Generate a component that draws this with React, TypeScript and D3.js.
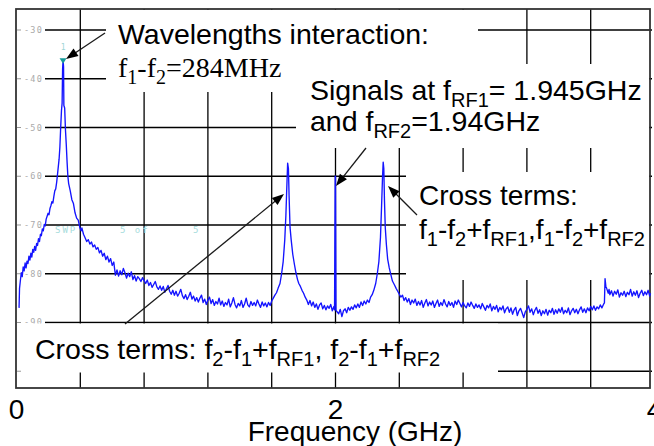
import React from "react";
import * as d3 from "d3";

const W = 654;
const H = 446;

// axis domains (GHz, dBm)
const X_DOMAIN: [number, number] = [0, 4];
const Y_DOMAIN: [number, number] = [-103.44, -25.69];

const X_GRID = [0.4, 0.8, 1.2, 1.6, 2.0, 2.4, 2.8, 3.2, 3.6];
const Y_GRID = [-30, -40, -50, -60, -70, -80, -90, -100];
const Y_TICK_LABELS = ["-30", "-40", "-50", "-60", "-70", "-80", "-90"];
const X_TICK_LABELS = [0, 2, 4];

// measured spectrum: [frequency GHz, level dBm]
const TRACE: [number, number][] = [
  [0.016, -87.0], [0.019, -83.0], [0.024, -81.5], [0.03, -79.8], [0.036, -80.6], [0.042, -78.6],
  [0.048, -79.4], [0.054, -77.8], [0.06, -78.8], [0.066, -77.4], [0.072, -77.9], [0.078, -76.4],
  [0.084, -77.2], [0.09, -75.8], [0.096, -76.6], [0.102, -75.0], [0.108, -75.6], [0.114, -74.4],
  [0.12, -75.2], [0.126, -73.8], [0.132, -74.2], [0.138, -72.8], [0.144, -73.4], [0.15, -71.9],
  [0.156, -72.2], [0.162, -70.8], [0.168, -71.2], [0.174, -69.9], [0.18, -70.2], [0.186, -68.8],
  [0.192, -68.2], [0.198, -67.6], [0.204, -67.9], [0.21, -66.6], [0.216, -66.0], [0.222, -65.2],
  [0.228, -65.5], [0.234, -64.2], [0.24, -63.0], [0.246, -62.6], [0.252, -61.2],
  [0.259, -59.0], [0.267, -56.5], [0.272, -54.0], [0.277, -50.0], [0.282, -46.5],
  [0.286, -45.0], [0.289, -38.0], [0.292, -36.2], [0.295, -37.5], [0.297, -45.5], [0.302, -46.0],
  [0.307, -50.5], [0.312, -53.5], [0.317, -57.0], [0.322, -60.0], [0.327, -61.5], [0.337, -63.0],
  [0.347, -64.8], [0.357, -65.6], [0.367, -67.5], [0.377, -68.6], [0.387, -69.0], [0.397, -70.5],
  [0.405, -71.2], [0.41, -70.6], [0.42, -71.9], [0.43, -72.6], [0.44, -73.4], [0.45, -73.0],
  [0.46, -73.9], [0.47, -73.5], [0.48, -74.5], [0.49, -74.1], [0.5, -75.0], [0.51, -74.6],
  [0.52, -75.7], [0.53, -75.2], [0.54, -76.4], [0.55, -75.8], [0.56, -77.1], [0.57, -76.4],
  [0.58, -77.6], [0.59, -76.9], [0.6, -78.3], [0.61, -77.6], [0.615, -79.0], [0.62, -80.3],
  [0.63, -79.2], [0.64, -80.5], [0.65, -79.4], [0.66, -80.2], [0.67, -78.9], [0.68, -79.8],
  [0.69, -80.9], [0.7, -79.9], [0.71, -80.6], [0.72, -79.6], [0.73, -81.2], [0.74, -80.4],
  [0.75, -81.5], [0.76, -80.6], [0.77, -81.0], [0.78, -81.6], [0.79, -80.8], [0.8, -81.4],
  [0.81, -82.0], [0.82, -81.3], [0.83, -82.4], [0.84, -81.8], [0.85, -82.8], [0.86, -82.2],
  [0.87, -81.6], [0.88, -82.7], [0.89, -83.2], [0.9, -82.5], [0.91, -83.4], [0.92, -82.6],
  [0.93, -83.8], [0.94, -83.1], [0.95, -82.4], [0.96, -83.6], [0.97, -84.2], [0.98, -83.4],
  [0.99, -84.4], [1.0, -83.6], [1.01, -84.6], [1.02, -84.0], [1.03, -83.2], [1.04, -84.5],
  [1.05, -85.1], [1.06, -84.3], [1.07, -85.3], [1.08, -84.6], [1.09, -83.8], [1.1, -85.2],
  [1.11, -84.6], [1.12, -85.6], [1.13, -84.9], [1.14, -85.8], [1.15, -85.0], [1.16, -84.4],
  [1.17, -85.9], [1.18, -85.2], [1.19, -86.3], [1.2, -85.4], [1.21, -84.8], [1.22, -86.1],
  [1.23, -85.3], [1.24, -86.5], [1.25, -85.7], [1.26, -86.2], [1.27, -85.0], [1.28, -86.4],
  [1.29, -85.6], [1.3, -86.7], [1.31, -85.9], [1.32, -86.4], [1.33, -85.2], [1.34, -86.8],
  [1.35, -86.0], [1.36, -84.9], [1.37, -86.3], [1.38, -87.0], [1.39, -86.1], [1.4, -86.6],
  [1.41, -85.5], [1.42, -86.9], [1.43, -86.2], [1.44, -85.0], [1.45, -86.4], [1.46, -86.8],
  [1.47, -85.7], [1.48, -86.5], [1.49, -85.9], [1.5, -86.6], [1.51, -85.4], [1.52, -86.2],
  [1.53, -86.9], [1.54, -85.8], [1.55, -86.6], [1.56, -86.0], [1.57, -86.8], [1.58, -85.9],
  [1.59, -86.5], [1.6, -85.6], [1.61, -85.0], [1.62, -84.4], [1.63, -83.9], [1.64, -83.0],
  [1.652, -82.0], [1.662, -80.0], [1.672, -77.5], [1.682, -73.0], [1.689, -68.0], [1.695, -62.0],
  [1.7, -57.3], [1.705, -58.5], [1.709, -64.0], [1.715, -70.5], [1.722, -73.0], [1.732, -76.0],
  [1.742, -78.0], [1.752, -79.8], [1.762, -81.2], [1.77, -82.0], [1.78, -82.6], [1.79, -83.4],
  [1.8, -84.0], [1.81, -84.8], [1.82, -85.4], [1.83, -86.3], [1.84, -85.5], [1.85, -86.6],
  [1.86, -85.8], [1.87, -86.9], [1.88, -86.2], [1.89, -87.3], [1.9, -86.4], [1.91, -86.0],
  [1.92, -87.2], [1.93, -86.5], [1.94, -87.4], [1.95, -86.6], [1.96, -87.1], [1.97, -86.3],
  [1.98, -87.6], [1.99, -86.7], [1.994, -87.4], [1.998, -60.0], [2.0, -60.0], [2.003, -87.5],
  [2.01, -87.8], [2.02, -88.2], [2.03, -87.3], [2.04, -88.8], [2.05, -87.6], [2.06, -87.2],
  [2.07, -88.0], [2.08, -86.9], [2.09, -87.5], [2.1, -86.8], [2.11, -87.3], [2.12, -86.4],
  [2.13, -87.0], [2.14, -86.2], [2.15, -86.9], [2.16, -85.8], [2.17, -86.5], [2.18, -85.6],
  [2.19, -86.2], [2.2, -85.4], [2.21, -85.9], [2.22, -84.8], [2.23, -84.3], [2.24, -83.4],
  [2.252, -82.0], [2.262, -80.0], [2.272, -77.5], [2.282, -72.5], [2.289, -66.0], [2.295, -60.0],
  [2.299, -57.1], [2.303, -58.5], [2.307, -65.0], [2.312, -70.5], [2.319, -74.0], [2.327, -77.0],
  [2.337, -78.8], [2.347, -80.2], [2.357, -81.5], [2.37, -82.3], [2.38, -83.0], [2.39, -83.6],
  [2.4, -84.2], [2.41, -84.8], [2.42, -84.4], [2.43, -85.5], [2.44, -84.9], [2.45, -85.8],
  [2.46, -85.1], [2.47, -86.3], [2.48, -85.4], [2.49, -86.0], [2.5, -85.2], [2.51, -86.5],
  [2.52, -85.7], [2.53, -86.4], [2.54, -85.5], [2.55, -86.9], [2.56, -86.0], [2.57, -85.3],
  [2.58, -86.6], [2.59, -85.8], [2.6, -86.4], [2.61, -85.6], [2.62, -86.9], [2.63, -86.1],
  [2.64, -85.4], [2.65, -86.7], [2.66, -85.9], [2.67, -86.5], [2.68, -85.3], [2.69, -86.2],
  [2.7, -86.8], [2.71, -85.7], [2.72, -86.5], [2.73, -85.9], [2.74, -86.9], [2.75, -85.6],
  [2.76, -86.3], [2.77, -85.4], [2.78, -86.1], [2.79, -86.8], [2.8, -85.9], [2.81, -86.6],
  [2.82, -87.0], [2.83, -86.0], [2.84, -86.7], [2.85, -85.8], [2.86, -86.5], [2.87, -87.1],
  [2.88, -86.2], [2.89, -86.9], [2.9, -86.4], [2.91, -87.2], [2.92, -86.1], [2.93, -86.8],
  [2.94, -87.5], [2.95, -86.5], [2.96, -87.0], [2.97, -86.2], [2.98, -87.6], [2.99, -86.7],
  [3.0, -87.3], [3.01, -86.5], [3.02, -87.8], [3.03, -86.9], [3.04, -87.4], [3.05, -86.6],
  [3.06, -88.0], [3.07, -87.2], [3.08, -86.8], [3.09, -87.9], [3.1, -87.0], [3.11, -88.3],
  [3.12, -87.4], [3.13, -86.9], [3.14, -88.6], [3.15, -87.6], [3.16, -87.1], [3.17, -88.0],
  [3.18, -89.0], [3.19, -87.8], [3.2, -87.3], [3.21, -86.6], [3.22, -87.9], [3.23, -87.2],
  [3.24, -88.4], [3.25, -87.5], [3.26, -86.9], [3.27, -88.1], [3.28, -87.4], [3.29, -88.6],
  [3.3, -87.6], [3.31, -88.2], [3.32, -87.3], [3.33, -88.5], [3.34, -87.5], [3.35, -88.0],
  [3.36, -87.1], [3.37, -88.3], [3.38, -87.4], [3.39, -88.1], [3.4, -87.2], [3.41, -87.9],
  [3.42, -86.9], [3.43, -88.2], [3.44, -87.5], [3.45, -88.0], [3.46, -87.0], [3.47, -88.4],
  [3.48, -87.6], [3.49, -87.1], [3.5, -88.0], [3.51, -87.3], [3.52, -88.2], [3.53, -87.4],
  [3.54, -86.8], [3.55, -87.9], [3.56, -87.2], [3.57, -88.0], [3.58, -87.0], [3.59, -87.6],
  [3.6, -86.7], [3.61, -87.4], [3.62, -86.6], [3.63, -87.5], [3.64, -86.8], [3.65, -87.2],
  [3.66, -86.4], [3.67, -87.0], [3.68, -86.3], [3.686, -86.0], [3.69, -81.0], [3.695, -82.6],
  [3.7, -83.0], [3.71, -84.0], [3.715, -83.2], [3.72, -84.3], [3.73, -83.5], [3.74, -84.6],
  [3.75, -83.6], [3.76, -84.2], [3.77, -83.3], [3.78, -84.8], [3.79, -83.9], [3.8, -84.4],
  [3.81, -83.6], [3.82, -84.7], [3.83, -83.8], [3.84, -84.3], [3.85, -83.2], [3.86, -84.6],
  [3.87, -83.7], [3.88, -84.4], [3.89, -83.5], [3.9, -84.9], [3.91, -84.0], [3.92, -83.4],
  [3.93, -84.5], [3.94, -83.7], [3.95, -84.3], [3.96, -83.4], [3.97, -84.6], [3.975, -84.0],
];

const MARKER: [number, number] = [0.292, -36.2];

const SANS = "'Liberation Sans', Arial, sans-serif";
const SERIF = "'Liberation Serif', 'Times New Roman', serif";
const MONO = "'DejaVu Sans Mono', monospace";

const FRAME = { left: 16, top: 9, right: 650, bottom: 388 };
const GRID_X0 = 45;

// white annotation panels that hide the graticule
const PANELS = [
  { x: 106, y: 10, w: 372, h: 82 },
  { x: 296, y: 64, w: 353, h: 84 },
  { x: 406, y: 172, w: 243, h: 108 },
  { x: 22, y: 323.5, w: 476, h: 49 },
];

function Arrow({ x1, y1, x2, y2 }: { x1: number; y1: number; x2: number; y2: number }) {
  const dx = x2 - x1;
  const dy = y2 - y1;
  const len = Math.sqrt(dx * dx + dy * dy);
  const ux = dx / len;
  const uy = dy / len;
  const hl = 12;
  const hw = 4.5;
  const bx = x2 - ux * hl;
  const by = y2 - uy * hl;
  const pts = `${x2},${y2} ${bx - uy * hw},${by + ux * hw} ${bx + uy * hw},${by - ux * hw}`;
  return (
    <g>
      <line x1={x1} y1={y1} x2={bx + ux * 2} y2={by + uy * 2} stroke="#1a1a1a" strokeWidth={1.3} />
      <polygon points={pts} fill="#000" />
    </g>
  );
}

export default function App() {
  const x = d3.scaleLinear().domain(X_DOMAIN).range([16.5, 654.5]);
  const y = d3.scaleLinear().domain(Y_DOMAIN).range([388, 9]);
  const line = d3
    .line<[number, number]>()
    .x((d) => x(d[0]))
    .y((d) => y(d[1]));

  const mx = x(MARKER[0]);
  const my = y(MARKER[1]);
  const SUB = 20;
  const SH = 7;

  return (
    <svg
      width={W}
      height={H}
      viewBox={`0 0 ${W} ${H}`}
      style={{ position: "absolute", left: 0, top: 0, background: "#fff" }}
    >
      <rect x={0} y={0} width={W} height={H} fill="#fff" />
      {/* graticule */}
      {X_GRID.map((g) => (
        <line key={"vx" + g} x1={x(g)} x2={x(g)} y1={FRAME.top} y2={FRAME.bottom} stroke="#000" strokeWidth={1.3} />
      ))}
      {Y_GRID.map((g) => (
        <line key={"hy" + g} x1={GRID_X0} x2={FRAME.right + 2} y1={y(g)} y2={y(g)} stroke="#000" strokeWidth={1.3} />
      ))}
      {/* y tick labels (instrument style) */}
      {Y_GRID.map((g) => (
        <line key={"tk" + g} x1={17} x2={21} y1={y(g)} y2={y(g)} stroke="#999" strokeWidth={1} />
      ))}
      {Y_TICK_LABELS.map((t, i) => (
        <text
          key={"yl" + t}
          x={24}
          y={y(Y_GRID[i]) + 3}
          fontFamily={MONO}
          fontSize={8.5}
          letterSpacing={1.2}
          fill="#aaa"
        >
          {t}
        </text>
      ))}
      {/* panels */}
      {PANELS.map((p, i) => (
        <rect key={"p" + i} x={p.x} y={p.y} width={p.w} height={p.h} fill="#fff" />
      ))}
      {/* frame */}
      <rect
        x={FRAME.left}
        y={FRAME.top}
        width={FRAME.right - FRAME.left}
        height={FRAME.bottom - FRAME.top}
        fill="none"
        stroke="#333"
        strokeWidth={1.8}
      />
      {/* sweep text */}
      <g fontFamily={MONO} fontSize={9} fill="#a6dcdc" letterSpacing={2}>
        <text x={55} y={233}>SWP</text>
        <text x={120} y={233}>5 of</text>
        <text x={193} y={233}>5</text>
      </g>
      {/* trace */}
      <path d={line(TRACE) || ""} fill="none" stroke="#1414ff" strokeWidth={1.35} strokeLinejoin="round" />
      {/* marker */}
      <polygon points={`${mx - 3.5},${my - 2} ${mx + 3.5},${my - 2} ${mx},${my + 3.5}`} fill="#169b9b" />
      <text x={mx} y={my - 10} textAnchor="middle" fontFamily={MONO} fontSize={8} fill="#9fd6d6">
        1
      </text>
      {/* arrows */}
      <Arrow x1={105} y1={33} x2={66} y2={59} />
      <Arrow x1={366} y1={148} x2={336} y2={186} />
      <Arrow x1={417} y1={215} x2={388} y2={186} />
      <Arrow x1={125} y1={324} x2={284} y2={194} />
      {/* annotations */}
      <text x={118} y={44} fontFamily={SANS} fontSize={28.5} fill="#000">
        Wavelengths interaction:
      </text>
      <text x={118} y={77} fontFamily={SERIF} fontSize={28} fill="#000">
        f<tspan fontSize={SUB} dy={SH}>1</tspan>
        <tspan dy={-SH}>-f</tspan>
        <tspan fontSize={SUB} dy={SH}>2</tspan>
        <tspan dy={-SH}>=284MHz</tspan>
      </text>
      <text x={310} y={100} fontFamily={SANS} fontSize={28.5} fill="#000">
        Signals at f<tspan fontSize={SUB} dy={SH}>RF1</tspan>
        <tspan dy={-SH}>= 1.945GHz</tspan>
      </text>
      <text x={310} y={131} fontFamily={SANS} fontSize={28.5} fill="#000">
        and f<tspan fontSize={SUB} dy={SH}>RF2</tspan>
        <tspan dy={-SH}>=1.94GHz</tspan>
      </text>
      <text x={419} y={205} fontFamily={SANS} fontSize={28} fill="#000">
        Cross terms:
      </text>
      <text x={419} y={239} fontFamily={SANS} fontSize={28} fill="#000">
        f<tspan fontSize={SUB} dy={SH}>1</tspan>
        <tspan dy={-SH}>-f</tspan>
        <tspan fontSize={SUB} dy={SH}>2</tspan>
        <tspan dy={-SH}>+f</tspan>
        <tspan fontSize={SUB} dy={SH}>RF1</tspan>
        <tspan dy={-SH}>,f</tspan>
        <tspan fontSize={SUB} dy={SH}>1</tspan>
        <tspan dy={-SH}>-f</tspan>
        <tspan fontSize={SUB} dy={SH}>2</tspan>
        <tspan dy={-SH}>+f</tspan>
        <tspan fontSize={SUB} dy={SH}>RF2</tspan>
      </text>
      <text x={35} y={359} fontFamily={SANS} fontSize={28.5} fill="#000">
        Cross terms: f<tspan fontSize={SUB} dy={SH}>2</tspan>
        <tspan dy={-SH}>-f</tspan>
        <tspan fontSize={SUB} dy={SH}>1</tspan>
        <tspan dy={-SH}>+f</tspan>
        <tspan fontSize={SUB} dy={SH}>RF1</tspan>
        <tspan dy={-SH}>, f</tspan>
        <tspan fontSize={SUB} dy={SH}>2</tspan>
        <tspan dy={-SH}>-f</tspan>
        <tspan fontSize={SUB} dy={SH}>1</tspan>
        <tspan dy={-SH}>+f</tspan>
        <tspan fontSize={SUB} dy={SH}>RF2</tspan>
      </text>
      {/* x axis labels */}
      {X_TICK_LABELS.map((t) => (
        <text key={"xl" + t} x={x(t)} y={419} textAnchor="middle" fontFamily={SANS} fontSize={28} fill="#000">
          {t}
        </text>
      ))}
      <text x={355} y={441} textAnchor="middle" fontFamily={SANS} fontSize={28} fill="#000">
        Frequency (GHz)
      </text>
    </svg>
  );
}
